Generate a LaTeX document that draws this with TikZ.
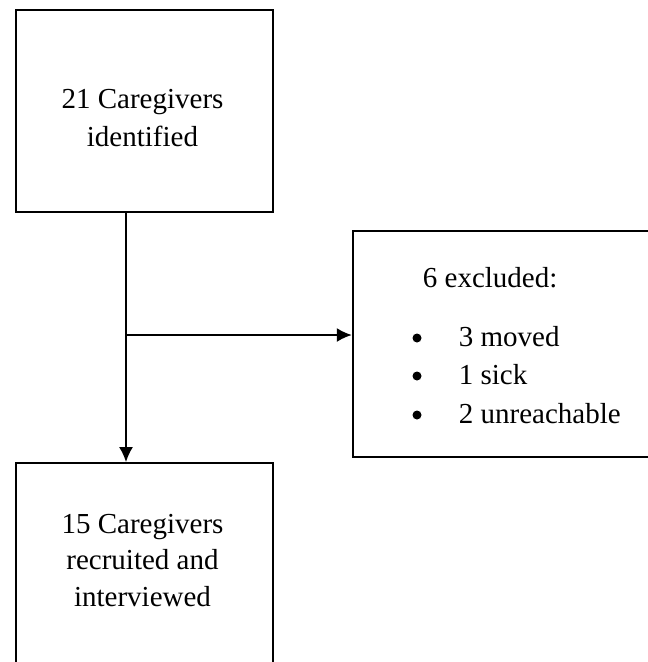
\documentclass[tikz,border=0pt]{standalone}
\usepackage{fontspec}
\setmainfont{Liberation Serif}
\usetikzlibrary{arrows.meta, positioning, calc}
\tikzset{box/.style = {draw, line width=1.8pt, rectangle, inner sep=0pt},
  txt/.style = {inner sep=0pt, anchor=base, font=\fontsize{29}{36}\selectfont},
  bullet/.style = {circle, fill, inner sep=0pt, minimum size=9pt}}

\begin{document}
\begin{tikzpicture}[x=1pt, y=1pt, line width=1.8pt,
    >={Latex[length=15pt, width=14pt]}]

    \useasboundingbox (0, 0) rectangle (648, -662);
    \clip (0, 0) rectangle (648, -662);

    % The boxes
    \node (top) [box, minimum width=257, minimum height=202] at (144.5, -111) {};
    \node (excl) [box, minimum width=310, minimum height=226] at (507.7, -344) {};
    \node (bottom) [box, minimum width=257, minimum height=202] at (144.5, -564) {};

    % Texts of the boxes
    \node (toptxt1) [txt] at (142.5, -108) {21 Caregivers};
    \node (toptxt2) [txt] at (142.5, -146) {identified};

    \node (bottomtxt1) [txt] at (142.5, -533) {15 Caregivers};
    \node (bottomtxt2) [txt] at (142.5, -569) {recruited and};
    \node (bottomtxt3) [txt] at (142.5, -606) {interviewed};

    \node (excltitle) [txt, anchor=base west] at (422, -287) {6 excluded:};
    \foreach \y/\item [count=\i] in {346/3 moved, 384/1 sick, 423/2 unreachable} {
        \node (dot\i) [bullet] at (417, -\y+8) {};
        \node (item\i) [txt, anchor=base west] at (458, -\y) {\item};
    }

    % The connectors
    \coordinate (split) at (126, -335);
    \draw [->] (split |- top.south) -- (split |- bottom.north);
    \draw [->] (split) -- (split -| excl.west);

\end{tikzpicture}
\end{document}
